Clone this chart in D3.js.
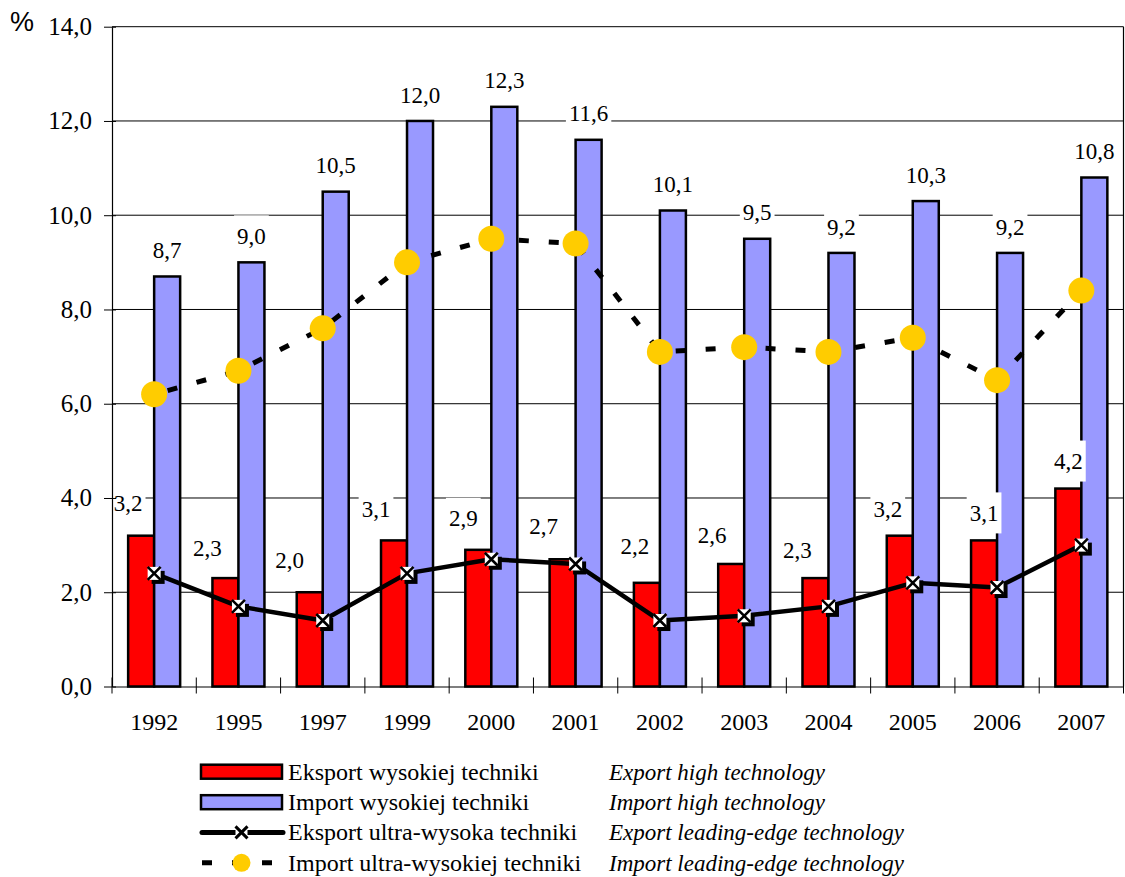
<!DOCTYPE html>
<html>
<head>
<meta charset="utf-8">
<script src="https://cdn.jsdelivr.net/npm/d3@7/dist/d3.min.js"></script>
<style>
  html, body { margin: 0; padding: 0; background: #fff; }
  svg { display: block; }
  text { font-family: "Liberation Serif", "Tinos", "Times New Roman", "DejaVu Serif", serif; fill: #000; }
</style>
</head>
<body>
<svg id="chart" width="1125" height="877"></svg>
<script>
// ---- data ----
const years = ["1992","1995","1997","1999","2000","2001","2002","2003","2004","2005","2006","2007"];
const exportHigh = [3.2, 2.3, 2.0, 3.1, 2.9, 2.7, 2.2, 2.6, 2.3, 3.2, 3.1, 4.2];
const importHigh = [8.7, 9.0, 10.5, 12.0, 12.3, 11.6, 10.1, 9.5, 9.2, 10.3, 9.2, 10.8];
const exportLeading = [2.4, 1.7, 1.4, 2.4, 2.7, 2.6, 1.4, 1.5, 1.7, 2.2, 2.1, 3.0];
const importLeading = [6.2, 6.7, 7.6, 9.0, 9.5, 9.4, 7.1, 7.2, 7.1, 7.4, 6.5, 8.4];
const yTicks = [0, 2, 4, 6, 8, 10, 12, 14];
const legendPolish = ["Eksport wysokiej techniki", "Import wysokiej techniki", "Eksport ultra-wysoka techniki", "Import ultra-wysokiej techniki"];
const legendEnglish = ["Export high technology", "Import high technology", "Export leading-edge technology", "Import leading-edge technology"];

// label nudges for export labels (layout, px)
const exportLabelDx = [-13, -18, -20, -18, -15, -19, -12, -19, -18, -12, 0, 0];
const exportLabelDy = [-32, -30, -32, -31, -31, -33, -36, -29, -28, -26, -27, -27];

const fmt = v => d3.format(".1f")(v).replace(".", ",");
const SERIF = '"Liberation Serif", "Tinos", "Times New Roman", "DejaVu Serif", serif';

const svg = d3.select("#chart");
const plotLeft = 112, plotRight = 1123.5, plotTop = 26.7, plotBottom = 686.5;

const x = d3.scaleBand().domain(years).range([plotLeft, plotRight]).padding(0);
const y = d3.scaleLinear().domain([0, 14]).range([plotBottom, plotTop]);
const barW = 26;
const cx = d => x(d) + x.bandwidth() / 2;

// gridlines
svg.append("g").selectAll("line").data(yTicks.filter(t => t > 0)).join("line")
  .attr("x1", plotLeft).attr("x2", plotRight)
  .attr("y1", d => y(d)).attr("y2", d => y(d))
  .attr("stroke", "#000").attr("stroke-width", 1);

// right border
svg.append("line").attr("x1", plotRight).attr("x2", plotRight).attr("y1", plotTop).attr("y2", plotBottom)
  .attr("stroke", "#000").attr("stroke-width", 1.2);

// bars
const bars = svg.append("g");
bars.selectAll("rect.exp").data(years).join("rect").attr("class", "exp")
  .attr("x", (d) => cx(d) - barW).attr("width", barW)
  .attr("y", (d, i) => y(exportHigh[i])).attr("height", (d, i) => y(0) - y(exportHigh[i]))
  .attr("fill", "#FF0000").attr("stroke", "#000").attr("stroke-width", 2.5);
bars.selectAll("rect.imp").data(years).join("rect").attr("class", "imp")
  .attr("x", (d) => cx(d)).attr("width", barW)
  .attr("y", (d, i) => y(importHigh[i])).attr("height", (d, i) => y(0) - y(importHigh[i]))
  .attr("fill", "#9999FF").attr("stroke", "#000").attr("stroke-width", 2.5);

// dashed line (import leading-edge)
const lineGen = d3.line().x(d => cx(d[0])).y(d => y(d[1]));
svg.append("path").datum(years.map((d, i) => [d, importLeading[i]]))
  .attr("d", lineGen).attr("fill", "none").attr("stroke", "#000")
  .attr("stroke-width", 5).attr("stroke-dasharray", "10,20").attr("stroke-dashoffset", -14);
svg.append("g").selectAll("circle").data(years).join("circle")
  .attr("cx", d => cx(d)).attr("cy", (d, i) => y(importLeading[i])).attr("r", 13)
  .attr("fill", "#FFCC00");

// solid line (export leading-edge)
svg.append("path").datum(years.map((d, i) => [d, exportLeading[i]]))
  .attr("d", lineGen).attr("fill", "none").attr("stroke", "#000")
  .attr("stroke-width", 4.5).attr("stroke-linejoin", "round");
const mk = svg.append("g").selectAll("g").data(years).join("g")
  .attr("transform", (d, i) => `translate(${cx(d)},${y(exportLeading[i])})`);
const ms = 6.5;
mk.append("rect").attr("x", -ms + 4).attr("y", -ms + 4).attr("width", 2 * ms).attr("height", 2 * ms).attr("fill", "#000");
mk.append("rect").attr("x", -ms).attr("y", -ms).attr("width", 2 * ms).attr("height", 2 * ms).attr("fill", "#fff");
mk.append("path").attr("d", `M${-ms},${-ms}L${ms},${ms}M${-ms},${ms}L${ms},${-ms}`)
  .attr("stroke", "#000").attr("stroke-width", 2.6);

// data labels
function label(g, px, py, txt) {
  const t = g.append("text").attr("x", px).attr("y", py + 7.6).attr("text-anchor", "middle")
    .style("font-family", SERIF).attr("font-size", 23).text(txt);
  const w = t.node().getComputedTextLength();
  g.insert("rect", "text").attr("x", px - w / 2 - 3).attr("y", py - 21)
    .attr("width", w + 6).attr("height", 41).attr("fill", "#fff");
}
const labels = svg.append("g");
years.forEach((d, i) => {
  const g = labels.append("g");
  label(g, cx(d) + barW / 2, y(importHigh[i]) - 26, fmt(importHigh[i]));
});
years.forEach((d, i) => {
  const g = labels.append("g");
  label(g, cx(d) - barW / 2 + exportLabelDx[i], y(exportHigh[i]) + exportLabelDy[i], fmt(exportHigh[i]));
});

// axes
const yAxis = d3.axisLeft(y).tickValues(yTicks).tickFormat(fmt).tickSizeOuter(0).tickSizeInner(8).tickPadding(12);
const gy = svg.append("g").attr("transform", `translate(${plotLeft},0)`).call(yAxis);
gy.select(".domain").attr("stroke", "#000").attr("stroke-width", 1.2);
gy.selectAll(".tick line").attr("x2", -8).attr("x1", 4).attr("stroke", "#000");
gy.selectAll(".tick text").attr("font-size", 25).style("font-family", SERIF).attr("fill", "#000");

const xAxis = d3.axisBottom(x).tickSize(0).tickSizeOuter(0).tickPadding(26);
const gx = svg.append("g").attr("transform", `translate(0,${plotBottom})`).call(xAxis);
gx.select(".domain").attr("stroke", "#000").attr("stroke-width", 1.2);
gx.selectAll(".tick text").attr("font-size", 24).style("font-family", SERIF).attr("fill", "#000");
const seps = years.map(d => x(d)).concat([plotRight]);
gx.append("g").selectAll("line").data(seps).join("line")
  .attr("x1", d => d).attr("x2", d => d).attr("y1", -9).attr("y2", 7)
  .attr("stroke", "#000").attr("stroke-width", 1);

// % sign
svg.append("text").attr("x", 10).attr("y", 31).style("font-family", '"Liberation Sans", Arial, sans-serif').attr("font-size", 27).text("%");

// legend
const lg = svg.append("g");
const rowY = [771.7, 802.2, 832.4, 862.8];
const lx0 = 200, lx1 = 283, lmid = 241.5;
lg.append("rect").attr("x", lx0 + 1).attr("y", rowY[0] - 7).attr("width", lx1 - lx0 - 2).attr("height", 14)
  .attr("fill", "#FF0000").attr("stroke", "#000").attr("stroke-width", 2.5);
lg.append("rect").attr("x", lx0 + 1).attr("y", rowY[1] - 7).attr("width", lx1 - lx0 - 2).attr("height", 14)
  .attr("fill", "#9999FF").attr("stroke", "#000").attr("stroke-width", 2.5);
lg.append("line").attr("x1", lx0 + 2).attr("x2", lx1).attr("y1", rowY[2]).attr("y2", rowY[2])
  .attr("stroke", "#000").attr("stroke-width", 5).attr("stroke-linecap", "round");
lg.append("rect").attr("x", lmid - 6).attr("y", rowY[2] - 6).attr("width", 12).attr("height", 12).attr("fill", "#fff");
lg.append("path").attr("d", `M${lmid - 6},${rowY[2] - 6}L${lmid + 6},${rowY[2] + 6}M${lmid - 6},${rowY[2] + 6}L${lmid + 6},${rowY[2] - 6}`)
  .attr("stroke", "#000").attr("stroke-width", 3);
lg.append("line").attr("x1", lx0 + 2).attr("x2", lx1 - 10).attr("y1", rowY[3]).attr("y2", rowY[3])
  .attr("stroke", "#000").attr("stroke-width", 5).attr("stroke-dasharray", "10,20");
lg.append("circle").attr("cx", lmid).attr("cy", rowY[3]).attr("r", 9).attr("fill", "#FFCC00");

lg.selectAll("text.pl").data(legendPolish).join("text").attr("class", "pl")
  .attr("x", 288).attr("y", (d, i) => rowY[i] + 8).style("font-family", SERIF).attr("font-size", 24).text(d => d);
lg.selectAll("text.en").data(legendEnglish).join("text").attr("class", "en")
  .attr("x", 609).attr("y", (d, i) => rowY[i] + 8).style("font-family", SERIF).attr("font-size", 23).attr("font-style", "italic").text(d => d);
</script>
</body>
</html>
